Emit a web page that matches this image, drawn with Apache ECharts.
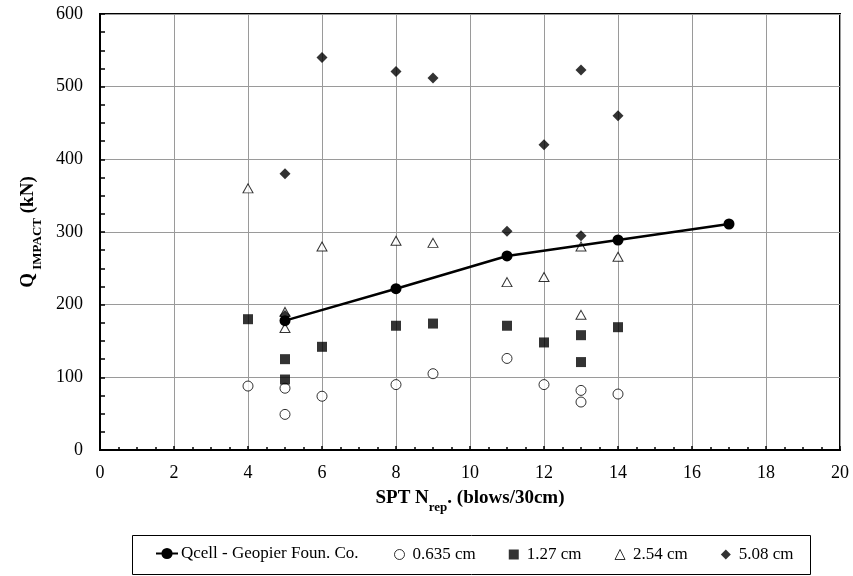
<!DOCTYPE html>
<html>
<head>
<meta charset="utf-8">
<script src="https://cdn.jsdelivr.net/npm/echarts@6/dist/echarts.min.js"></script>
<style>html,body{margin:0;padding:0;background:#fff}#c{width:853px;height:576px}</style>
</head>
<body>
<div id="c"></div>
<script>
// Data
const qcellX = [5, 8, 11, 14, 17];
const qcellY = [178, 222, 267, 289, 311];

const d0635X = [4, 5, 5, 6, 8, 9, 11, 12, 13, 13, 14];
const d0635Y = [88, 85, 49, 74, 90, 105, 126, 90, 82, 66, 77];

const d127X = [4, 5, 5, 6, 8, 9, 11, 12, 13, 13, 14];
const d127Y = [180, 125, 97, 142, 171, 174, 171, 148, 158, 121, 169];

const d254X = [4, 5, 5, 6, 8, 9, 11, 12, 13, 13, 14];
const d254Y = [360, 190, 168, 280, 288, 285, 231, 238, 280, 186, 266];

const d508X = [5, 5, 6, 8, 9, 11, 12, 13, 13, 14];
const d508Y = [380, 185, 540, 521, 512, 301, 420, 523, 295, 460];

const seriesNames = ['Qcell - Geopier Foun. Co.', '0.635 cm', '1.27 cm', '2.54 cm', '5.08 cm'];

function pairs(xs, ys) { return xs.map((x, i) => [x, ys[i]]); }

const FONT = 'Liberation Serif';
const chart = echarts.init(document.getElementById('c'), null, { renderer: 'canvas' });
chart.setOption({
  animation: false,
  backgroundColor: '#fff',
  textStyle: { fontFamily: FONT, color: '#000' },
  grid: { left: 100, top: 14, width: 740, height: 436, show: true, borderColor: '#000', borderWidth: 2, backgroundColor: 'transparent' },
  graphic: [{
    type: 'rect', z: 0,
    shape: { x: 132.5, y: 535.5, width: 678, height: 39 },
    style: { fill: 'none', stroke: '#000', lineWidth: 1 }
  }],
  xAxis: {
    type: 'value', min: 0, max: 20, interval: 2,
    axisLine: { show: true, lineStyle: { color: '#000', width: 2 } },
    axisTick: { show: true, inside: true, length: 4, lineStyle: { color: '#000', width: 1.5 } },
    minorTick: { show: true, splitNumber: 4, length: 3, lineStyle: { color: '#000', width: 1.5 } },
    axisLabel: { fontFamily: FONT, fontSize: 18, color: '#000', margin: 14 },
    splitLine: { show: true, lineStyle: { color: '#9a9a9a', width: 1 } },
    name: '{b|SPT N}{s|rep}{b|. (blows/30cm)}',
    nameLocation: 'middle', nameGap: 36,
    nameTextStyle: {
      fontFamily: FONT, color: '#000',
      rich: {
        b: { fontFamily: FONT, fontSize: 19, fontWeight: 'bold', color: '#000', lineHeight: 22, verticalAlign: 'bottom' },
        s: { fontFamily: FONT, fontSize: 13, fontWeight: 'bold', color: '#000', lineHeight: 22, verticalAlign: 'bottom', padding: [0, 0, -6, 0] }
      }
    }
  },
  yAxis: {
    type: 'value', min: 0, max: 600, interval: 100,
    axisLine: { show: true, lineStyle: { color: '#000', width: 2 } },
    axisTick: { show: true, inside: true, length: 5, lineStyle: { color: '#000', width: 1.5 } },
    minorTick: { show: true, splitNumber: 4, length: 5, lineStyle: { color: '#000', width: 1.5 } },
    axisLabel: { fontFamily: FONT, fontSize: 18, color: '#000', margin: 17 },
    splitLine: { show: true, lineStyle: { color: '#9a9a9a', width: 1 } },
    name: '{b|Q}{s| IMPACT}{b| (kN)}',
    nameLocation: 'middle', nameGap: 62, nameRotate: 90,
    nameTextStyle: {
      fontFamily: FONT, color: '#000',
      rich: {
        b: { fontFamily: FONT, fontSize: 19, fontWeight: 'bold', color: '#000', lineHeight: 22, verticalAlign: 'bottom' },
        s: { fontFamily: FONT, fontSize: 13, fontWeight: 'bold', color: '#000', lineHeight: 22, verticalAlign: 'bottom', padding: [0, 0, -6, 0] }
      }
    }
  },
  legend: [
    {
      left: 155, top: 545, padding: 0,
      itemWidth: 22, itemHeight: 14,
      textStyle: { fontFamily: FONT, fontSize: 17, color: '#000', padding: [0, 0, 0, -2] },
      data: [{ name: seriesNames[0] }]
    },
    {
      left: 394, top: 546, padding: 0,
      itemGap: 33,
      itemWidth: 10, itemHeight: 10,
      textStyle: { fontFamily: FONT, fontSize: 17, color: '#000', padding: [0, 0, 0, 3] },
      data: [
        { name: seriesNames[1], icon: 'circle', itemStyle: { color: '#fff', borderColor: '#000', borderWidth: 1 } },
        { name: seriesNames[2], icon: 'rect' },
        { name: seriesNames[3], icon: 'triangle', itemStyle: { color: '#fff', borderColor: '#000', borderWidth: 1 } },
        { name: seriesNames[4], icon: 'diamond' }
      ]
    }
  ],
  series: [
    {
      name: seriesNames[1], type: 'scatter', data: pairs(d0635X, d0635Y),
      symbol: 'circle', symbolSize: 10,
      itemStyle: { color: '#fff', borderColor: '#000', borderWidth: 1 }, z: 3
    },
    {
      name: seriesNames[2], type: 'scatter', data: pairs(d127X, d127Y),
      symbol: 'rect', symbolSize: 10,
      itemStyle: { color: '#000' }, z: 3
    },
    {
      name: seriesNames[3], type: 'scatter', data: pairs(d254X, d254Y),
      symbol: 'triangle', symbolSize: [10, 9],
      itemStyle: { color: '#fff', borderColor: '#000', borderWidth: 1 }, z: 3
    },
    {
      name: seriesNames[4], type: 'scatter', data: pairs(d508X, d508Y),
      symbol: 'diamond', symbolSize: 11,
      itemStyle: { color: '#000' }, z: 3
    },
    {
      name: seriesNames[0], type: 'line', data: pairs(qcellX, qcellY),
      symbol: 'circle', symbolSize: 11, showSymbol: true,
      lineStyle: { color: '#000', width: 2.5 },
      itemStyle: { color: '#000' }, z: 4
    }
  ]
});
</script>
</body>
</html>
